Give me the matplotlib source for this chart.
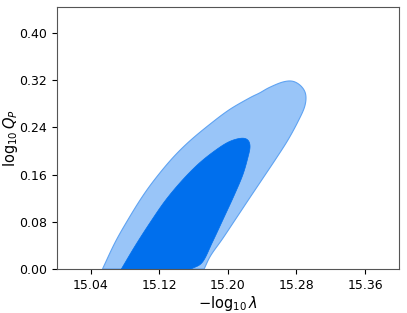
import matplotlib
matplotlib.use("Agg")
import numpy as np
import matplotlib.pyplot as plt

# Outer (95%) contour outline
outer_x = [15.0536, 15.0685, 15.0841, 15.0999, 15.1155, 15.1351, 15.1546, 15.1781,
           15.2015, 15.2250, 15.2368, 15.2485, 15.2642, 15.2760, 15.2857, 15.2908,
           15.2896, 15.2818, 15.2701, 15.2564, 15.2407, 15.2250, 15.2094, 15.1938,
           15.1800, 15.1722]
outer_y = [0.0, 0.0456, 0.0854, 0.1222, 0.1535, 0.1876, 0.2158, 0.2443,
           0.2698, 0.2897, 0.2982, 0.3077, 0.3169, 0.3180, 0.3094, 0.2953,
           0.2754, 0.2499, 0.2187, 0.1876, 0.1535, 0.1195, 0.0854, 0.0514,
           0.0230, 0.0]

# Inner (68%) contour outline
inner_x = [15.0756, 15.0920, 15.1096, 15.1272, 15.1468, 15.1663, 15.1859, 15.2015,
           15.2153, 15.2231, 15.2258, 15.2231, 15.2173, 15.2074, 15.1957, 15.1820,
           15.1703, 15.1572]
inner_y = [0.0, 0.0400, 0.0797, 0.1166, 0.1506, 0.1791, 0.2017, 0.2158,
           0.2216, 0.2187, 0.2073, 0.1876, 0.1591, 0.1251, 0.0882, 0.0456,
           0.0116, 0.0]

xticks = [15.04, 15.12, 15.20, 15.28, 15.36]
yticks = [0.00, 0.08, 0.16, 0.24, 0.32, 0.40]


def smooth_outline(xs, ys, n=12):
    """Catmull-Rom rendering of an outline through the given points."""
    P = np.column_stack([xs, ys])
    scale = np.array([0.4, 0.444])
    Q = P / scale
    Q = np.vstack([Q[0] * 2 - Q[1], Q, Q[-1] * 2 - Q[-2]])
    out = []
    for i in range(1, len(Q) - 2):
        p0, p1, p2, p3 = Q[i - 1], Q[i], Q[i + 1], Q[i + 2]
        for t in np.linspace(0, 1, n, endpoint=False):
            t2, t3 = t * t, t * t * t
            pt = 0.5 * ((2 * p1) + (-p0 + p2) * t + (2 * p0 - 5 * p1 + 4 * p2 - p3) * t2
                        + (-p0 + 3 * p1 - 3 * p2 + p3) * t3)
            out.append(pt)
    out.append(Q[-2])
    out = np.array(out) * scale
    return out[:, 0], out[:, 1]


fig = plt.figure(figsize=(4.07, 3.13), dpi=100)
ax = fig.add_axes([0.139, 0.1406, 0.842, 0.837])

ox, oy = smooth_outline(outer_x, outer_y)
ix, iy = smooth_outline(inner_x, inner_y)
ax.fill(ox, oy, facecolor="#99C5F8", edgecolor="#5FA3F2", linewidth=0.8, zorder=1)
ax.fill(ix, iy, facecolor="#006FED", edgecolor="#006FED", linewidth=0.5, zorder=2)

ax.set_xlim(15.0, 15.40)
ax.set_ylim(0.0, 0.444)
ax.set_xticks(xticks)
ax.set_xticklabels([f"{t:.2f}" for t in xticks])
ax.set_yticks(yticks)
ax.set_yticklabels([f"{t:.2f}" for t in yticks])
ax.tick_params(labelsize=9)
ax.set_xlabel(r"$-\log_{10}\lambda$", fontsize=10.5, labelpad=2)
ax.set_ylabel(r"$\log_{10}Q_P$", fontsize=10.5)
ax.yaxis.set_label_coords(-0.108, 0.5)
for s in ax.spines.values():
    s.set_color("#555555")

fig.savefig("out.png", dpi=100)
